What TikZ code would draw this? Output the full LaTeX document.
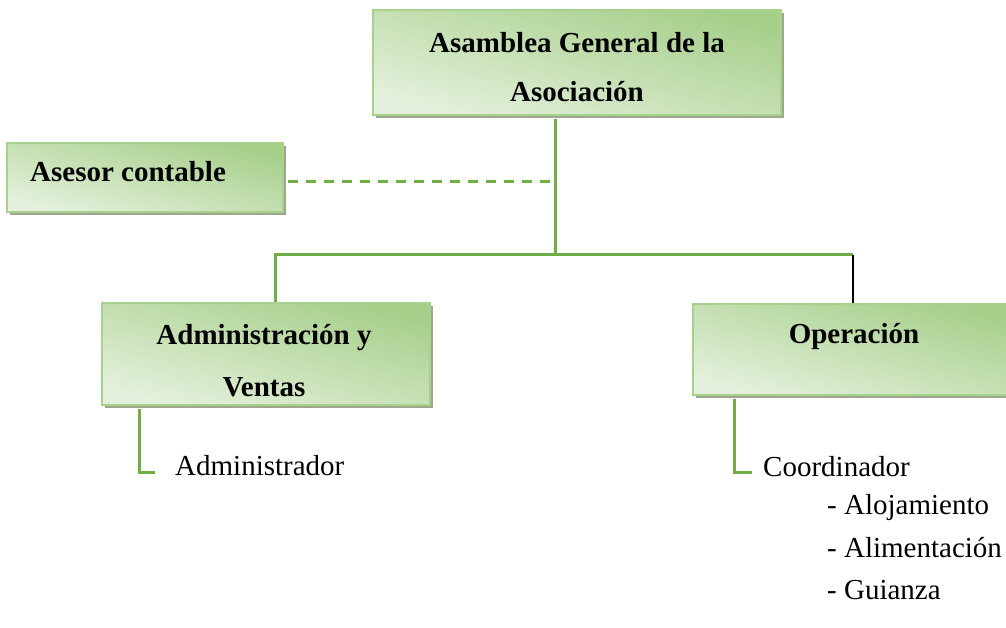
\documentclass[tikz,border=0pt]{standalone}
\usepackage{fontspec}
\setmainfont{Liberation Serif}
\usetikzlibrary{shadows,calc}
\definecolor{linegreen}{HTML}{70AD47}
\definecolor{bordergreen}{HTML}{A9D18E}
\definecolor{gtop}{HTML}{A6CF8A}
\definecolor{gbot}{HTML}{E4F0DC}
\definecolor{shadowgray}{HTML}{9EA68E}
\begin{document}
\begin{tikzpicture}[x=1pt,y=-1pt,
  box/.style={draw=bordergreen, line width=2pt, top color=gtop, bottom color=gbot,
    shading angle=-15, inner sep=0pt,
    drop shadow={shadow xshift=3pt, shadow yshift=-3pt, fill=shadowgray, opacity=1}},
  txt/.style={inner sep=0pt, font=\fontsize{29}{35}\selectfont},
  btxt/.style={inner sep=0pt, align=center, font=\fontsize{29}{49}\selectfont\bfseries},
  conn/.style={draw=linegreen, line width=3pt},
  dashconn/.style={draw=linegreen, line width=3pt, dash pattern=on 10pt off 8pt},
  blk/.style={draw=black, line width=2.5pt}]
\clip (0,0) rectangle (1006,628);
\fill[white] (0,0) rectangle (1006,628);
% boxes
\node[box, minimum width=408pt, minimum height=105pt] (top) at (577,62.5) {};
\node[box, minimum width=276pt, minimum height=69pt] (ase) at (145,177.5) {};
\node[box, minimum width=328pt, minimum height=102pt] (adm) at (266,354) {};
\node[box, minimum width=322pt, minimum height=91pt] (ope) at (854,349.5) {};
% box texts
\node[btxt] (topt) at (577,67.5) {Asamblea General de la\\Asociación};
\node[btxt, anchor=west] (aset) at (30,172) {Asesor contable};
\node[btxt, font=\fontsize{29}{52}\selectfont\bfseries] (admt) at (264,361) {Administración y\\Ventas};
\node[btxt] (opet) at (854,337) {Operación};
% plain texts
\node[txt, anchor=west] (admr) at (175,466) {Administrador};
\node[txt, anchor=west] (coor) at (763,467) {Coordinador};
\node[txt, anchor=west] (aloj) at (827,508) {- Alojamiento};
\node[txt, anchor=west] (alim) at (827,548) {- Alimentación};
\node[txt, anchor=west] (guia) at (827,590) {- Guianza};
% connectors
\coordinate (j) at (555,255);
\coordinate (d) at (555,182);
\coordinate (hl) at (275,255);
\coordinate (hr) at (853,255);
\coordinate (ac) at (139,472);
\coordinate (ae) at (155,472);
\coordinate (oc) at (734,472);
\coordinate (oe) at (752,472);
\draw[conn] ($(top.south -| j)+(0,3)$) -- (j);
\draw[dashconn] ($(ase.east |- d)+(4,0)$) -- (d);
\draw[conn] (adm.north -| hl) -- (hl) -- (hr);
\draw[blk] (hr) -- (hr |- ope.north);
\draw[conn] ($(adm.south -| ac)+(0,3)$) -- (ac) -- (ae);
\draw[conn] ($(ope.south -| oc)+(0,3)$) -- (oc) -- (oe);
\end{tikzpicture}
\end{document}
